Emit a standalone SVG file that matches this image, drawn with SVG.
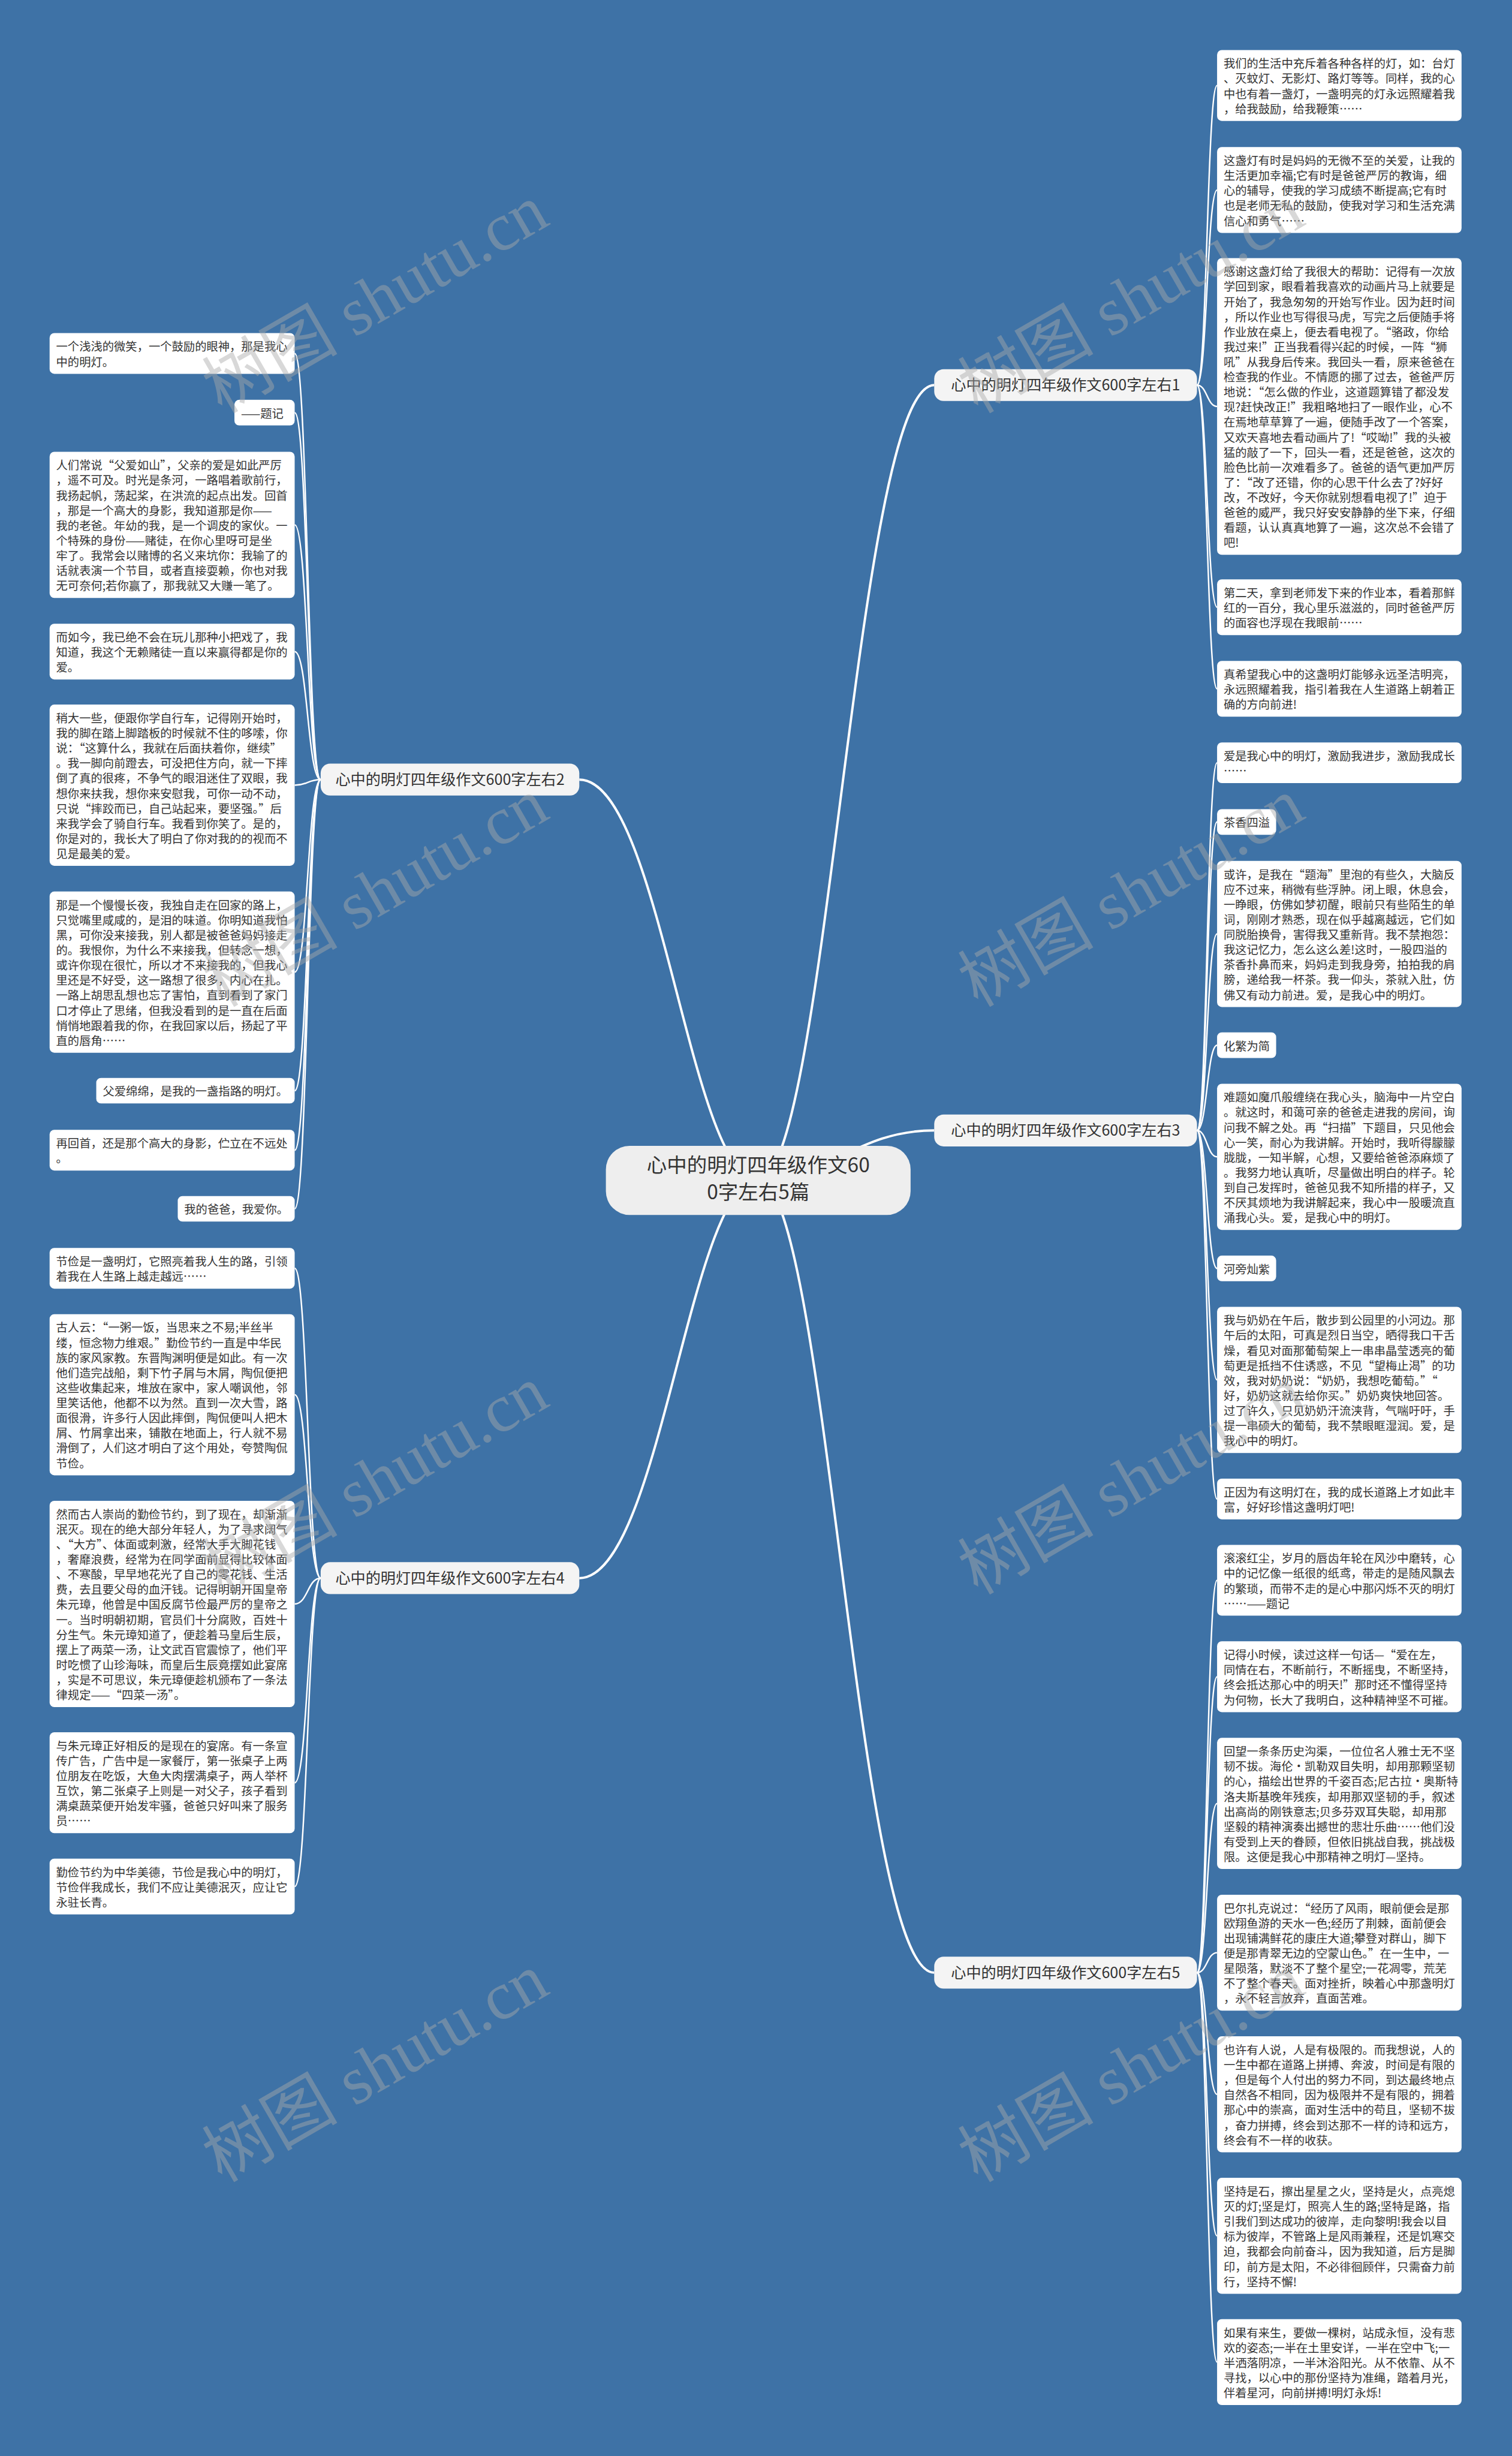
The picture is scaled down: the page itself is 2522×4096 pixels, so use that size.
<svg xmlns="http://www.w3.org/2000/svg" width="2522" height="4096" viewBox="0 0 2522 4096">
<style>
.bg{fill:#3E72A6}
.b{fill:#ffffff}
.t{font-family:'Noto Sans CJK SC','Noto Sans',sans-serif;font-size:19.6px;fill:#333333}
.bn{fill:#f4f4f4}
.bt{font-family:'Noto Sans CJK SC','Noto Sans',sans-serif;font-size:25.5px;fill:#333333;text-anchor:middle}
.cn{fill:#eeeeee}
.ct{font-family:'Noto Sans CJK SC','Noto Sans',sans-serif;font-size:34px;fill:#333333;text-anchor:middle}
.c{fill:none;stroke:#ffffff;stroke-width:2.5}
.m{fill:none;stroke:#ffffff;stroke-width:4}
.w{font-family:'Liberation Serif','Noto Sans CJK SC',serif;font-size:115px;fill:#aaaaaa;opacity:0.45}
</style>
<rect class="bg" x="0" y="0" width="2522" height="4096"/>
<g transform="scale(0.985)">
<g id="connectors">
<path class="m" d="M1284 1998 C1400 1998 1450 652 1582 652"/>
<path class="m" d="M1284 1998 C1400 1998 1450 1914 1582 1914"/>
<path class="m" d="M1284 1998 C1400 1998 1450 3340 1582 3340"/>
<path class="m" d="M1284 1998 C1168 1998 1118 1320 981 1320"/>
<path class="m" d="M1284 1998 C1168 1998 1118 2672 981 2672"/>
<path class="c" d="M2027 652 C2044 652 2044 144.8 2061 144.8"/>
<path class="c" d="M2027 652 C2044 652 2044 321.7 2061 321.7"/>
<path class="c" d="M2027 652 C2044 652 2044 688.2 2061 688.2"/>
<path class="c" d="M2027 652 C2044 652 2044 1028.2 2061 1028.2"/>
<path class="c" d="M2027 652 C2044 652 2044 1166.2 2061 1166.2"/>
<path class="c" d="M2027 1914 C2044 1914 2044 1291.5 2061 1291.5"/>
<path class="c" d="M2027 1914 C2044 1914 2044 1391.7 2061 1391.7"/>
<path class="c" d="M2027 1914 C2044 1914 2044 1581.3 2061 1581.3"/>
<path class="c" d="M2027 1914 C2044 1914 2044 1769.7 2061 1769.7"/>
<path class="c" d="M2027 1914 C2044 1914 2044 1958.7 2061 1958.7"/>
<path class="c" d="M2027 1914 C2044 1914 2044 2147.7 2061 2147.7"/>
<path class="c" d="M2027 1914 C2044 1914 2044 2336.4 2061 2336.4"/>
<path class="c" d="M2027 1914 C2044 1914 2044 2538 2061 2538"/>
<path class="c" d="M2027 3340 C2044 3340 2044 2675.6 2061 2675.6"/>
<path class="c" d="M2027 3340 C2044 3340 2044 2839 2061 2839"/>
<path class="c" d="M2027 3340 C2044 3340 2044 3053.5 2061 3053.5"/>
<path class="c" d="M2027 3340 C2044 3340 2044 3306.2 2061 3306.2"/>
<path class="c" d="M2027 3340 C2044 3340 2044 3546 2061 3546"/>
<path class="c" d="M2027 3340 C2044 3340 2044 3785.6 2061 3785.6"/>
<path class="c" d="M2027 3340 C2044 3340 2044 3999.4 2061 3999.4"/>
<path class="c" d="M543 1320 C521 1320 521 598.5 499 598.5"/>
<path class="c" d="M543 1320 C521 1320 521 698.7 499 698.7"/>
<path class="c" d="M543 1320 C521 1320 521 888.7 499 888.7"/>
<path class="c" d="M543 1320 C521 1320 521 1103.2 499 1103.2"/>
<path class="c" d="M543 1320 C521 1320 521 1329.5 499 1329.5"/>
<path class="c" d="M543 1320 C521 1320 521 1646 499 1646"/>
<path class="c" d="M543 1320 C521 1320 521 1846.7 499 1846.7"/>
<path class="c" d="M543 1320 C521 1320 521 1947.5 499 1947.5"/>
<path class="c" d="M543 1320 C521 1320 521 2046.7 499 2046.7"/>
<path class="c" d="M543 2672 C521 2672 521 2147.5 499 2147.5"/>
<path class="c" d="M543 2672 C521 2672 521 2361.5 499 2361.5"/>
<path class="c" d="M543 2672 C521 2672 521 2715.7 499 2715.7"/>
<path class="c" d="M543 2672 C521 2672 521 3018.5 499 3018.5"/>
<path class="c" d="M543 2672 C521 2672 521 3194.2 499 3194.2"/>
</g>

<g id="center"><rect class="cn" x="1026" y="1940" width="516" height="117" rx="40"/><text class="ct" x="1284" y="1985"><tspan x="1284">心中的明灯四年级作文60</tspan><tspan x="1284" dy="45">0字左右5篇</tspan></text></g>

<g id="branch1"><rect class="bn" x="1582" y="625" width="445" height="54" rx="16"/><text class="bt" x="1804.5" y="661">心中的明灯四年级作文600字左右1</text></g>
<g id="branch2"><rect class="bn" x="543" y="1293" width="438" height="54" rx="16"/><text class="bt" x="762" y="1329">心中的明灯四年级作文600字左右2</text></g>
<g id="branch3"><rect class="bn" x="1582" y="1887" width="445" height="54" rx="16"/><text class="bt" x="1804.5" y="1923">心中的明灯四年级作文600字左右3</text></g>
<g id="branch4"><rect class="bn" x="543" y="2645" width="438" height="54" rx="16"/><text class="bt" x="762" y="2681">心中的明灯四年级作文600字左右4</text></g>
<g id="branch5"><rect class="bn" x="1582" y="3313" width="445" height="54" rx="16"/><text class="bt" x="1804.5" y="3349">心中的明灯四年级作文600字左右5</text></g>

<g id="r1"><rect class="b" x="2061" y="84.8" width="414" height="119.9" rx="8"/><text class="t" y="115.1"><tspan x="2072">我们的生活中充斥着各种各样的灯，如：台灯</tspan><tspan x="2072" dy="25.5">、灭蚊灯、无影灯、路灯等等。同样，我的心</tspan><tspan x="2072" dy="25.5">中也有着一盏灯，一盏明亮的灯永远照耀着我</tspan><tspan x="2072" dy="25.5">，给我鼓励，给我鞭策……</tspan></text></g>
<g id="r2"><rect class="b" x="2061" y="249" width="414" height="145.4" rx="8"/><text class="t" y="279.3"><tspan x="2072">这盏灯有时是妈妈的无微不至的关爱，让我的</tspan><tspan x="2072" dy="25.5">生活更加幸福;它有时是爸爸严厉的教诲，细</tspan><tspan x="2072" dy="25.5">心的辅导，使我的学习成绩不断提高;它有时</tspan><tspan x="2072" dy="25.5">也是老师无私的鼓励，使我对学习和生活充满</tspan><tspan x="2072" dy="25.5">信心和勇气……</tspan></text></g>
<g id="r3"><rect class="b" x="2061" y="437" width="414" height="502.4" rx="8"/><text class="t" y="467.3"><tspan x="2072">感谢这盏灯给了我很大的帮助：记得有一次放</tspan><tspan x="2072" dy="25.5">学回到家，眼看着我喜欢的动画片马上就要是</tspan><tspan x="2072" dy="25.5">开始了，我急匆匆的开始写作业。因为赶时间</tspan><tspan x="2072" dy="25.5">，所以作业也写得很马虎，写完之后便随手将</tspan><tspan x="2072" dy="25.5">作业放在桌上，便去看电视了。“骆政，你给</tspan><tspan x="2072" dy="25.5">我过来!”正当我看得兴起的时候，一阵“狮</tspan><tspan x="2072" dy="25.5">吼”从我身后传来。我回头一看，原来爸爸在</tspan><tspan x="2072" dy="25.5">检查我的作业。不情愿的挪了过去，爸爸严厉</tspan><tspan x="2072" dy="25.5">地说：“怎么做的作业，这道题算错了都没发</tspan><tspan x="2072" dy="25.5">现?赶快改正!”我粗略地扫了一眼作业，心不</tspan><tspan x="2072" dy="25.5">在焉地草草算了一遍，便随手改了一个答案，</tspan><tspan x="2072" dy="25.5">又欢天喜地去看动画片了!“哎呦!”我的头被</tspan><tspan x="2072" dy="25.5">猛的敲了一下，回头一看，还是爸爸，这次的</tspan><tspan x="2072" dy="25.5">脸色比前一次难看多了。爸爸的语气更加严厉</tspan><tspan x="2072" dy="25.5">了：“改了还错，你的心思干什么去了?好好</tspan><tspan x="2072" dy="25.5">改，不改好，今天你就别想看电视了!”迫于</tspan><tspan x="2072" dy="25.5">爸爸的威严，我只好安安静静的坐下来，仔细</tspan><tspan x="2072" dy="25.5">看题，认认真真地算了一遍，这次总不会错了</tspan><tspan x="2072" dy="25.5">吧!</tspan></text></g>
<g id="r4"><rect class="b" x="2061" y="981" width="414" height="94.4" rx="8"/><text class="t" y="1011.3"><tspan x="2072">第二天，拿到老师发下来的作业本，看着那鲜</tspan><tspan x="2072" dy="25.5">红的一百分，我心里乐滋滋的，同时爸爸严厉</tspan><tspan x="2072" dy="25.5">的面容也浮现在我眼前……</tspan></text></g>
<g id="r5"><rect class="b" x="2061" y="1119" width="414" height="94.4" rx="8"/><text class="t" y="1149.3"><tspan x="2072">真希望我心中的这盏明灯能够永远圣洁明亮，</tspan><tspan x="2072" dy="25.5">永远照耀着我，指引着我在人生道路上朝着正</tspan><tspan x="2072" dy="25.5">确的方向前进!</tspan></text></g>
<g id="r6"><rect class="b" x="2061" y="1257" width="414" height="68.9" rx="8"/><text class="t" y="1287.3"><tspan x="2072">爱是我心中的明灯，激励我进步，激励我成长</tspan><tspan x="2072" dy="25.5">……</tspan></text></g>
<g id="r7"><rect class="b" x="2061" y="1370" width="100" height="43.4" rx="8"/><text class="t" x="2072" y="1400.3">茶香四溢</text></g>
<g id="r8"><rect class="b" x="2061" y="1457.6" width="414" height="247.4" rx="8"/><text class="t" y="1487.9"><tspan x="2072">或许，是我在“题海”里泡的有些久，大脑反</tspan><tspan x="2072" dy="25.5">应不过来，稍微有些浮肿。闭上眼，休息会，</tspan><tspan x="2072" dy="25.5">一睁眼，仿佛如梦初醒，眼前只有些陌生的单</tspan><tspan x="2072" dy="25.5">词，刚刚才熟悉，现在似乎越离越远，它们如</tspan><tspan x="2072" dy="25.5">同脱胎换骨，害得我又重新背。我不禁抱怨：</tspan><tspan x="2072" dy="25.5">我这记忆力，怎么这么差!这时，一股四溢的</tspan><tspan x="2072" dy="25.5">茶香扑鼻而来，妈妈走到我身旁，拍拍我的肩</tspan><tspan x="2072" dy="25.5">膀，递给我一杯茶。我一仰头，茶就入肚，仿</tspan><tspan x="2072" dy="25.5">佛又有动力前进。爱，是我心中的明灯。</tspan></text></g>
<g id="r9"><rect class="b" x="2061" y="1748" width="100" height="43.4" rx="8"/><text class="t" x="2072" y="1778.3">化繁为简</text></g>
<g id="r10"><rect class="b" x="2061" y="1835" width="414" height="247.4" rx="8"/><text class="t" y="1865.3"><tspan x="2072">难题如魔爪般缠绕在我心头，脑海中一片空白</tspan><tspan x="2072" dy="25.5">。就这时，和蔼可亲的爸爸走进我的房间，询</tspan><tspan x="2072" dy="25.5">问我不解之处。再“扫描”下题目，只见他会</tspan><tspan x="2072" dy="25.5">心一笑，耐心为我讲解。开始时，我听得朦朦</tspan><tspan x="2072" dy="25.5">胧胧，一知半解，心想，又要给爸爸添麻烦了</tspan><tspan x="2072" dy="25.5">。我努力地认真听，尽量做出明白的样子。轮</tspan><tspan x="2072" dy="25.5">到自己发挥时，爸爸见我不知所措的样子，又</tspan><tspan x="2072" dy="25.5">不厌其烦地为我讲解起来，我心中一股暖流直</tspan><tspan x="2072" dy="25.5">涌我心头。爱，是我心中的明灯。</tspan></text></g>
<g id="r11"><rect class="b" x="2061" y="2126" width="100" height="43.4" rx="8"/><text class="t" x="2072" y="2156.3">河旁灿紫</text></g>
<g id="r12"><rect class="b" x="2061" y="2212.7" width="414" height="247.4" rx="8"/><text class="t" y="2243"><tspan x="2072">我与奶奶在午后，散步到公园里的小河边。那</tspan><tspan x="2072" dy="25.5">午后的太阳，可真是烈日当空，晒得我口干舌</tspan><tspan x="2072" dy="25.5">燥，看见对面那葡萄架上一串串晶莹透亮的葡</tspan><tspan x="2072" dy="25.5">萄更是抵挡不住诱惑，不见“望梅止渴”的功</tspan><tspan x="2072" dy="25.5">效，我对奶奶说：“奶奶，我想吃葡萄。”“</tspan><tspan x="2072" dy="25.5">好，奶奶这就去给你买。”奶奶爽快地回答。</tspan><tspan x="2072" dy="25.5">过了许久，只见奶奶汗流浃背，气喘吁吁，手</tspan><tspan x="2072" dy="25.5">提一串硕大的葡萄，我不禁眼眶湿润。爱，是</tspan><tspan x="2072" dy="25.5">我心中的明灯。</tspan></text></g>
<g id="r13"><rect class="b" x="2061" y="2503.6" width="414" height="68.9" rx="8"/><text class="t" y="2533.9"><tspan x="2072">正因为有这明灯在，我的成长道路上才如此丰</tspan><tspan x="2072" dy="25.5">富，好好珍惜这盏明灯吧!</tspan></text></g>
<g id="r14"><rect class="b" x="2061" y="2615.7" width="414" height="119.9" rx="8"/><text class="t" y="2646"><tspan x="2072">滚滚红尘，岁月的唇齿年轮在风沙中磨转，心</tspan><tspan x="2072" dy="25.5">中的记忆像一纸很的纸鸢，带走的是随风飘去</tspan><tspan x="2072" dy="25.5">的繁琐，而带不走的是心中那闪烁不灭的明灯</tspan><tspan x="2072" dy="25.5">……——题记</tspan></text></g>
<g id="r15"><rect class="b" x="2061" y="2779" width="414" height="119.9" rx="8"/><text class="t" y="2809.3"><tspan x="2072">记得小时候，读过这样一句话—“爱在左，</tspan><tspan x="2072" dy="25.5">同情在右，不断前行，不断摇曳，不断坚持，</tspan><tspan x="2072" dy="25.5">终会抵达那心中的明天!”那时还不懂得坚持</tspan><tspan x="2072" dy="25.5">为何物，长大了我明白，这种精神坚不可摧。</tspan></text></g>
<g id="r16"><rect class="b" x="2061" y="2942.5" width="414" height="221.9" rx="8"/><text class="t" y="2972.8"><tspan x="2072">回望一条条历史沟渠，一位位名人雅士无不坚</tspan><tspan x="2072" dy="25.5">韧不拔。海伦·凯勒双目失明，却用那颗坚韧</tspan><tspan x="2072" dy="25.5">的心，描绘出世界的千姿百态;尼古拉·奥斯特</tspan><tspan x="2072" dy="25.5">洛夫斯基晚年残疾，却用那双坚韧的手，叙述</tspan><tspan x="2072" dy="25.5">出高尚的刚铁意志;贝多芬双耳失聪，却用那</tspan><tspan x="2072" dy="25.5">坚毅的精神演奏出撼世的悲壮乐曲……他们没</tspan><tspan x="2072" dy="25.5">有受到上天的眷顾，但依旧挑战自我，挑战极</tspan><tspan x="2072" dy="25.5">限。这便是我心中那精神之明灯—坚持。</tspan></text></g>
<g id="r17"><rect class="b" x="2061" y="3208" width="414" height="196.4" rx="8"/><text class="t" y="3238.3"><tspan x="2072">巴尔扎克说过：“经历了风雨，眼前便会是那</tspan><tspan x="2072" dy="25.5">欧翔鱼游的天水一色;经历了荆棘，面前便会</tspan><tspan x="2072" dy="25.5">出现铺满鲜花的康庄大道;攀登对群山，脚下</tspan><tspan x="2072" dy="25.5">便是那青翠无边的空蒙山色。”在一生中，一</tspan><tspan x="2072" dy="25.5">星陨落，默淡不了整个星空;一花凋零，荒芜</tspan><tspan x="2072" dy="25.5">不了整个春天。面对挫折，映着心中那盏明灯</tspan><tspan x="2072" dy="25.5">，永不轻言放弃，直面苦难。</tspan></text></g>
<g id="r18"><rect class="b" x="2061" y="3447.8" width="414" height="196.4" rx="8"/><text class="t" y="3478.1"><tspan x="2072">也许有人说，人是有极限的。而我想说，人的</tspan><tspan x="2072" dy="25.5">一生中都在道路上拼搏、奔波，时间是有限的</tspan><tspan x="2072" dy="25.5">，但是每个人付出的努力不同，到达最终地点</tspan><tspan x="2072" dy="25.5">自然各不相同，因为极限并不是有限的，拥着</tspan><tspan x="2072" dy="25.5">那心中的崇高，面对生活中的苟且，坚韧不拔</tspan><tspan x="2072" dy="25.5">，奋力拼搏，终会到达那不一样的诗和远方，</tspan><tspan x="2072" dy="25.5">终会有不一样的收获。</tspan></text></g>
<g id="r19"><rect class="b" x="2061" y="3687.4" width="414" height="196.4" rx="8"/><text class="t" y="3717.7"><tspan x="2072">坚持是石，擦出星星之火，坚持是火，点亮熄</tspan><tspan x="2072" dy="25.5">灭的灯;坚是灯，照亮人生的路;坚特是路，指</tspan><tspan x="2072" dy="25.5">引我们到达成功的彼岸，走向黎明!我会以目</tspan><tspan x="2072" dy="25.5">标为彼岸，不管路上是风雨兼程，还是饥寒交</tspan><tspan x="2072" dy="25.5">迫，我都会向前奋斗，因为我知道，后方是脚</tspan><tspan x="2072" dy="25.5">印，前方是太阳，不必徘徊顾伴，只需奋力前</tspan><tspan x="2072" dy="25.5">行，坚持不懈!</tspan></text></g>
<g id="r20"><rect class="b" x="2061" y="3926.7" width="414" height="145.4" rx="8"/><text class="t" y="3957"><tspan x="2072">如果有来生，要做一棵树，站成永恒，没有悲</tspan><tspan x="2072" dy="25.5">欢的姿态;一半在土里安详，一半在空中飞;一</tspan><tspan x="2072" dy="25.5">半洒落阴凉，一半沐浴阳光。从不依靠、从不</tspan><tspan x="2072" dy="25.5">寻找，以心中的那份坚持为准绳，踏着月光，</tspan><tspan x="2072" dy="25.5">伴着星河，向前拼搏!明灯永烁!</tspan></text></g>

<g id="l1"><rect class="b" x="84" y="564" width="415" height="68.9" rx="8"/><text class="t" y="594.3"><tspan x="95">一个浅浅的微笑，一个鼓励的眼神，那是我心</tspan><tspan x="95" dy="25.5">中的明灯。</tspan></text></g>
<g id="l2"><rect class="b" x="397" y="677" width="102" height="43.4" rx="8"/><text class="t" x="408" y="707.3">——题记</text></g>
<g id="l3"><rect class="b" x="84" y="765" width="415" height="247.4" rx="8"/><text class="t" y="795.3"><tspan x="95">人们常说“父爱如山”，父亲的爱是如此严厉</tspan><tspan x="95" dy="25.5">，遥不可及。时光是条河，一路唱着歌前行，</tspan><tspan x="95" dy="25.5">我扬起帆，荡起桨，在洪流的起点出发。回首</tspan><tspan x="95" dy="25.5">，那是一个高大的身影，我知道那是你——</tspan><tspan x="95" dy="25.5">我的老爸。年幼的我，是一个调皮的家伙。一</tspan><tspan x="95" dy="25.5">个特殊的身份——赌徒，在你心里呀可是坐</tspan><tspan x="95" dy="25.5">牢了。我常会以赌博的名义来坑你：我输了的</tspan><tspan x="95" dy="25.5">话就表演一个节目，或者直接耍赖，你也对我</tspan><tspan x="95" dy="25.5">无可奈何;若你赢了，那我就又大赚一笔了。</tspan></text></g>
<g id="l4"><rect class="b" x="84" y="1056" width="415" height="94.4" rx="8"/><text class="t" y="1086.3"><tspan x="95">而如今，我已绝不会在玩儿那种小把戏了，我</tspan><tspan x="95" dy="25.5">知道，我这个无赖赌徒一直以来赢得都是你的</tspan><tspan x="95" dy="25.5">爱。</tspan></text></g>
<g id="l5"><rect class="b" x="84" y="1193" width="415" height="272.9" rx="8"/><text class="t" y="1223.3"><tspan x="95">稍大一些，便跟你学自行车，记得刚开始时，</tspan><tspan x="95" dy="25.5">我的脚在踏上脚踏板的时候就不住的哆嗦，你</tspan><tspan x="95" dy="25.5">说：“这算什么，我就在后面扶着你，继续”</tspan><tspan x="95" dy="25.5">。我一脚向前蹬去，可没把住方向，就一下摔</tspan><tspan x="95" dy="25.5">倒了真的很疼，不争气的眼泪迷住了双眼，我</tspan><tspan x="95" dy="25.5">想你来扶我，想你来安慰我，可你一动不动，</tspan><tspan x="95" dy="25.5">只说“摔跤而已，自己站起来，要坚强。”后</tspan><tspan x="95" dy="25.5">来我学会了骑自行车。我看到你笑了。是的，</tspan><tspan x="95" dy="25.5">你是对的，我长大了明白了你对我的的视而不</tspan><tspan x="95" dy="25.5">见是最美的爱。</tspan></text></g>
<g id="l6"><rect class="b" x="84" y="1509.5" width="415" height="272.9" rx="8"/><text class="t" y="1539.8"><tspan x="95">那是一个慢慢长夜，我独自走在回家的路上，</tspan><tspan x="95" dy="25.5">只觉嘴里咸咸的，是泪的味道。你明知道我怕</tspan><tspan x="95" dy="25.5">黑，可你没来接我，别人都是被爸爸妈妈接走</tspan><tspan x="95" dy="25.5">的。我恨你，为什么不来接我，但转念一想，</tspan><tspan x="95" dy="25.5">或许你现在很忙，所以才不来接我的，但我心</tspan><tspan x="95" dy="25.5">里还是不好受，这一路想了很多，内心在扎。</tspan><tspan x="95" dy="25.5">一路上胡思乱想也忘了害怕，直到看到了家门</tspan><tspan x="95" dy="25.5">口才停止了思绪，但我没看到的是一直在后面</tspan><tspan x="95" dy="25.5">悄悄地跟着我的你，在我回家以后，扬起了平</tspan><tspan x="95" dy="25.5">直的唇角……</tspan></text></g>
<g id="l7"><rect class="b" x="163" y="1825" width="336" height="43.4" rx="8"/><text class="t" x="174" y="1855.3">父爱绵绵，是我的一盏指路的明灯。</text></g>
<g id="l8"><rect class="b" x="84" y="1913" width="415" height="68.9" rx="8"/><text class="t" y="1943.3"><tspan x="95">再回首，还是那个高大的身影，伫立在不远处</tspan><tspan x="95" dy="25.5">。</tspan></text></g>
<g id="l9"><rect class="b" x="301" y="2025" width="198" height="43.4" rx="8"/><text class="t" x="312" y="2055.3">我的爸爸，我爱你。</text></g>
<g id="l10"><rect class="b" x="84" y="2113" width="415" height="68.9" rx="8"/><text class="t" y="2143.3"><tspan x="95">节俭是一盏明灯，它照亮着我人生的路，引领</tspan><tspan x="95" dy="25.5">着我在人生路上越走越远……</tspan></text></g>
<g id="l11"><rect class="b" x="84" y="2225" width="415" height="272.9" rx="8"/><text class="t" y="2255.3"><tspan x="95">古人云：“一粥一饭，当思来之不易;半丝半</tspan><tspan x="95" dy="25.5">缕，恒念物力维艰。”勤俭节约一直是中华民</tspan><tspan x="95" dy="25.5">族的家风家教。东晋陶渊明便是如此。有一次</tspan><tspan x="95" dy="25.5">他们造完战船，剩下竹子屑与木屑，陶侃便把</tspan><tspan x="95" dy="25.5">这些收集起来，堆放在家中，家人嘲讽他，邻</tspan><tspan x="95" dy="25.5">里笑话他，他都不以为然。直到一次大雪，路</tspan><tspan x="95" dy="25.5">面很滑，许多行人因此摔倒，陶侃便叫人把木</tspan><tspan x="95" dy="25.5">屑、竹屑拿出来，铺散在地面上，行人就不易</tspan><tspan x="95" dy="25.5">滑倒了，人们这才明白了这个用处，夸赞陶侃</tspan><tspan x="95" dy="25.5">节俭。</tspan></text></g>
<g id="l12"><rect class="b" x="84" y="2541" width="415" height="349.4" rx="8"/><text class="t" y="2571.3"><tspan x="95">然而古人崇尚的勤俭节约，到了现在，却渐渐</tspan><tspan x="95" dy="25.5">泯灭。现在的绝大部分年轻人，为了寻求阔气</tspan><tspan x="95" dy="25.5">、“大方”、体面或刺激，经常大手大脚花钱</tspan><tspan x="95" dy="25.5">，奢靡浪费，经常为在同学面前显得比较体面</tspan><tspan x="95" dy="25.5">、不寒酸，早早地花光了自己的零花钱、生活</tspan><tspan x="95" dy="25.5">费，去且要父母的血汗钱。记得明朝开国皇帝</tspan><tspan x="95" dy="25.5">朱元璋，他曾是中国反腐节俭最严厉的皇帝之</tspan><tspan x="95" dy="25.5">一。当时明朝初期，官员们十分腐败，百姓十</tspan><tspan x="95" dy="25.5">分生气。朱元璋知道了，便趁着马皇后生辰，</tspan><tspan x="95" dy="25.5">摆上了两菜一汤，让文武百官震惊了，他们平</tspan><tspan x="95" dy="25.5">时吃惯了山珍海味，而皇后生辰竟摆如此宴席</tspan><tspan x="95" dy="25.5">，实是不可思议，朱元璋便趁机颁布了一条法</tspan><tspan x="95" dy="25.5">律规定——“四菜一汤”。</tspan></text></g>
<g id="l13"><rect class="b" x="84" y="2933" width="415" height="170.9" rx="8"/><text class="t" y="2963.3"><tspan x="95">与朱元璋正好相反的是现在的宴席。有一条宣</tspan><tspan x="95" dy="25.5">传广告，广告中是一家餐厅，第一张桌子上两</tspan><tspan x="95" dy="25.5">位朋友在吃饭，大鱼大肉摆满桌子，两人举杯</tspan><tspan x="95" dy="25.5">互饮，第二张桌子上则是一对父子，孩子看到</tspan><tspan x="95" dy="25.5">满桌蔬菜便开始发牢骚，爸爸只好叫来了服务</tspan><tspan x="95" dy="25.5">员……</tspan></text></g>
<g id="l14"><rect class="b" x="84" y="3147" width="415" height="94.4" rx="8"/><text class="t" y="3177.3"><tspan x="95">勤俭节约为中华美德，节俭是我心中的明灯，</tspan><tspan x="95" dy="25.5">节俭伴我成长，我们不应让美德泯灭，应让它</tspan><tspan x="95" dy="25.5">永驻长青。</tspan></text></g>

<g id="watermarks">
<text class="w" text-anchor="middle" transform="translate(655 540) rotate(-30)">树图 shutu.cn</text>
<text class="w" text-anchor="middle" transform="translate(1935 540) rotate(-30)">树图 shutu.cn</text>
<text class="w" text-anchor="middle" transform="translate(655 1545) rotate(-30)">树图 shutu.cn</text>
<text class="w" text-anchor="middle" transform="translate(1935 1545) rotate(-30)">树图 shutu.cn</text>
<text class="w" text-anchor="middle" transform="translate(655 2540) rotate(-30)">树图 shutu.cn</text>
<text class="w" text-anchor="middle" transform="translate(1935 2540) rotate(-30)">树图 shutu.cn</text>
<text class="w" text-anchor="middle" transform="translate(655 3535) rotate(-30)">树图 shutu.cn</text>
<text class="w" text-anchor="middle" transform="translate(1935 3535) rotate(-30)">树图 shutu.cn</text>
</g>
</g>
</svg>
